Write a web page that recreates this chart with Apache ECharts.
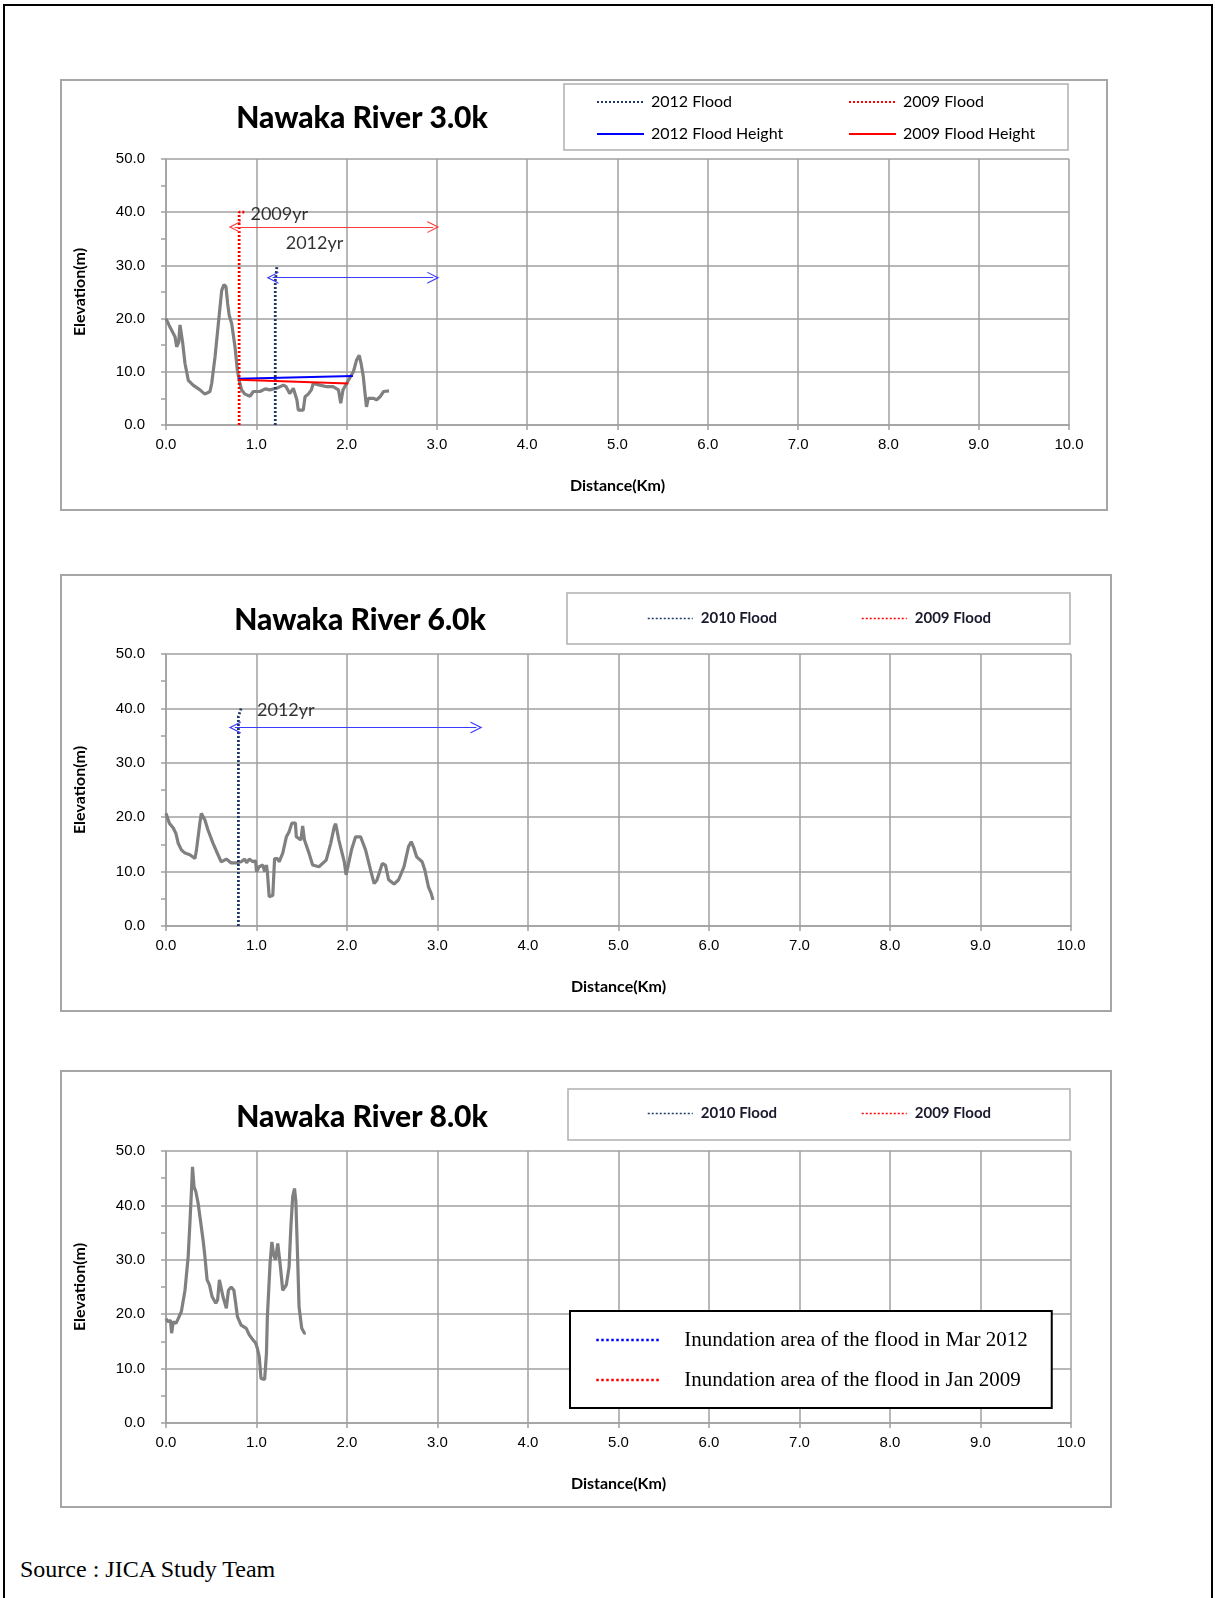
<!DOCTYPE html>
<html><head><meta charset="utf-8">
<script src="https://cdn.jsdelivr.net/npm/echarts@6/dist/echarts.min.js"></script>
<style>
body{margin:0;background:#fff;width:1215px;height:1598px;position:relative;overflow:hidden;}
#frame{position:absolute;left:3px;top:4px;width:1206px;height:1600px;border:2px solid #000;border-bottom:none;}
.panel{position:absolute;}
#source{position:absolute;left:20px;top:1556px;font-family:'Liberation Serif';font-size:24px;color:#000;}
</style></head><body>
<div id="frame"></div>
<div id="c1" class="panel" style="left:60px;top:79px;width:1048px;height:432px"></div>
<div id="c2" class="panel" style="left:60px;top:574px;width:1052px;height:438px"></div>
<div id="c3" class="panel" style="left:60px;top:1070px;width:1052px;height:438px"></div>
<div id="source">Source : JICA Study Team</div>
<script>
// ---------- data ----------
const titles = ['Nawaka River 3.0k', 'Nawaka River 6.0k', 'Nawaka River 8.0k'];
const xTicks = [0, 10, 1];   // min, max, interval (km)
const yTicks = [0, 50, 10];  // min, max, interval (m)

// ground profile, 3.0k [distance km, elevation m]
const profile30 = [[0,20.0],[0.044,18.4],[0.10,16.6],[0.118,14.7],[0.14,15.5],[0.155,18.8],[0.17,18.8],[0.185,15.4],[0.21,11.6],[0.247,8.4],[0.30,7.5],[0.376,6.6],[0.43,5.8],[0.487,6.3],[0.506,7.8],[0.543,12.8],[0.58,19.1],[0.617,25.3],[0.642,26.4],[0.664,26.0],[0.683,22.8],[0.70,20.6],[0.727,19.1],[0.764,14.7],[0.79,10.3],[0.81,8.4],[0.838,6.6],[0.875,5.8],[0.93,5.4],[0.967,6.3],[1.04,6.3],[1.10,6.8],[1.15,6.6],[1.226,6.9],[1.30,7.5],[1.33,7.2],[1.37,5.9],[1.41,6.9],[1.45,4.7],[1.465,2.8],[1.52,2.8],[1.54,5.3],[1.575,5.8],[1.61,6.6],[1.63,7.8],[1.705,7.5],[1.78,7.2],[1.85,7.2],[1.91,6.6],[1.935,4.1],[1.96,6.6],[1.98,7.2],[2.02,8.4],[2.075,10.0],[2.11,12.2],[2.14,13.1],[2.16,11.6],[2.185,9.1],[2.20,6.6],[2.22,3.4],[2.24,5.0],[2.30,5.0],[2.33,4.7],[2.37,5.3],[2.41,6.3],[2.47,6.4]];
const flood2012Line30 = [[1.21,0],[1.21,27],[1.23,30]];
const flood2009Line30 = [[0.81,0],[0.81,40],[0.87,40]];
const height2012_30 = [[0.80,8.7],[2.07,9.2]];
const height2009_30 = [[0.80,8.5],[2.02,7.8]];
const arrow2009_30 = [[0.76,37.2],[2.96,37.2]];
const arrow2012_30 = [[1.18,27.7],[2.96,27.7]];
const notes30 = [{name:'2009yr', value:[0.93,39.7]}, {name:'2012yr', value:[1.32,34.2]}];

// ground profile, 6.0k
const profile60 = [[0,20.7],[0.01,21.0],[0.037,18.9],[0.08,18.0],[0.11,17.0],[0.135,15.2],[0.17,14.0],[0.21,13.4],[0.264,13.1],[0.32,12.4],[0.337,14.0],[0.374,18.9],[0.39,20.7],[0.43,19.5],[0.465,17.6],[0.52,15.2],[0.575,13.1],[0.61,11.8],[0.667,12.3],[0.72,11.6],[0.777,11.6],[0.83,11.8],[0.87,12.3],[0.89,11.6],[0.92,12.3],[0.96,11.8],[0.99,12.0],[1.0,10.0],[1.03,10.9],[1.07,11.2],[1.09,10.0],[1.11,11.2],[1.12,10.0],[1.14,5.4],[1.18,5.6],[1.20,12.4],[1.23,12.4],[1.25,11.8],[1.29,13.4],[1.33,16.4],[1.36,17.3],[1.39,18.9],[1.43,18.9],[1.44,16.4],[1.49,15.8],[1.51,18.4],[1.53,15.8],[1.58,13.4],[1.62,11.2],[1.69,10.9],[1.77,12.1],[1.82,15.2],[1.86,18.3],[1.875,18.8],[1.91,15.8],[1.97,11.8],[1.99,9.4],[2.01,10.9],[2.05,14.0],[2.095,16.4],[2.15,16.4],[2.205,14.0],[2.26,10.3],[2.30,7.8],[2.33,8.4],[2.39,11.5],[2.425,11.2],[2.46,8.5],[2.52,7.7],[2.57,8.5],[2.63,10.9],[2.68,14.6],[2.71,15.5],[2.74,14.3],[2.77,12.7],[2.83,11.8],[2.86,10.3],[2.90,7.2],[2.93,6.0],[2.95,4.8]];
const flood2010Line60 = [[0.80,0],[0.80,38.5],[0.83,40]];
const arrow2012_60 = [[0.76,36.5],[3.43,36.5]];
const notes60 = [{name:'2012yr', value:[1.0,39.7]}];

// ground profile, 8.0k
const profile80 = [[0,19.2],[0.025,18.6],[0.05,18.9],[0.062,16.5],[0.08,18.6],[0.11,18.3],[0.135,19.2],[0.17,20.5],[0.21,24.4],[0.245,30.6],[0.264,36.7],[0.28,42.2],[0.293,47.1],[0.31,43.4],[0.33,42.5],[0.355,40.4],[0.38,37.3],[0.41,33.6],[0.43,30.6],[0.454,26.3],[0.48,25.4],[0.51,23.2],[0.55,22.0],[0.57,22.6],[0.59,26.3],[0.61,26.3],[0.63,23.2],[0.667,21.1],[0.69,24.4],[0.72,25.0],[0.75,24.4],[0.77,22.0],[0.79,19.5],[0.83,18.0],[0.887,17.4],[0.92,16.2],[0.96,15.3],[0.99,14.7],[1.01,13.7],[1.03,12.2],[1.05,8.2],[1.09,8.0],[1.11,12.8],[1.12,19.5],[1.15,29.4],[1.17,33.3],[1.19,30.9],[1.21,30.0],[1.235,33.0],[1.26,29.4],[1.29,24.4],[1.33,25.4],[1.36,28.7],[1.38,36.1],[1.40,41.6],[1.42,43.1],[1.435,40.7],[1.455,30.0],[1.47,21.4],[1.50,17.4],[1.53,16.5],[1.545,16.5]];

// ---------- styling helpers ----------
const GRID = '#a0a0a0';
const NAVY = '#1f3864';
const chev = 'path://M5,0 L10,10 L9,10 L5,2.2 L1,10 L0,10 Z';
const noSymbol = {opacity: 0};

function axes(gridTop, gridW, gridH, xGap) {
  const tickStyle = {color: GRID, width: 1.5};
  return {
    grid: {left: 106, top: gridTop, width: gridW, height: gridH},
    xAxis: {
      type: 'value', min: xTicks[0], max: xTicks[1], interval: xTicks[2],
      name: 'Distance(Km)', nameLocation: 'middle', nameGap: xGap,
      nameTextStyle: {fontFamily: 'Lato', fontWeight: 'bold', fontSize: 16, color: '#000'},
      axisLine: {show: true, lineStyle: tickStyle},
      axisTick: {show: true, length: 5, lineStyle: tickStyle},
      axisLabel: {margin: 12, formatter: v => v.toFixed(1), fontFamily: 'Liberation Sans', fontSize: 15, color: '#000'},
      splitLine: {show: true, lineStyle: tickStyle}
    },
    yAxis: {
      type: 'value', min: yTicks[0], max: yTicks[1], interval: yTicks[2],
      name: 'Elevation(m)', nameLocation: 'middle', nameGap: 78,
      nameTextStyle: {fontFamily: 'Lato', fontWeight: 'bold', fontSize: 16, color: '#000'},
      axisLine: {show: true, lineStyle: tickStyle},
      axisTick: {show: true, length: 5, lineStyle: tickStyle},
      minorTick: {show: true, splitNumber: 2, length: 5, lineStyle: tickStyle},
      axisLabel: {margin: 21, formatter: v => v.toFixed(1), fontFamily: 'Liberation Sans', fontSize: 15, color: '#000'},
      splitLine: {show: true, lineStyle: tickStyle}
    }
  };
}
function titleOpt(text, x, top) {
  return {text, left: x, top, textAlign: 'center',
    textStyle: {fontFamily: 'Lato', fontWeight: 900, fontSize: 30, color: '#000'}};
}
function profileSeries(data) {
  return {type: 'line', name: 'ground', data, symbol: 'none', silent: true,
    lineStyle: {color: '#808080', width: 3.2}, z: 3};
}
function dotted(name, data, color, width) {
  return {type: 'line', name, data, symbol: 'none', silent: true,
    itemStyle: {color}, lineStyle: {color, width: width || 2.8, type: [2, 2]}, z: 4};
}
function solid(name, data, color) {
  return {type: 'line', name, data, symbol: 'none', silent: true,
    itemStyle: {color}, lineStyle: {color, width: 2}, z: 5};
}
function arrow(pts, color) {
  return {type: 'line', data: [], symbol: 'none', silent: true,
    markLine: {silent: true, symbol: [chev, chev], symbolSize: [12, 12], precision: 3,
      label: {show: false}, emphasis: {disabled: true},
      itemStyle: {color}, lineStyle: {color, width: 1, type: 'solid'},
      data: [[{coord: pts[0]}, {coord: pts[1]}]]}};
}
function notes(data) {
  return {type: 'scatter', data, symbolSize: 1, silent: true, itemStyle: {color: 'rgba(0,0,0,0)'},
    label: {show: true, position: 'right', distance: 0, formatter: '{b}',
      fontFamily: 'Lato', fontSize: 18, color: '#000'}, z: 6};
}
function boxes(W, H, lg) {
  return [
    {type: 'rect', shape: {x: 1, y: 1, width: W - 2, height: H - 2}, style: {fill: null, stroke: '#a6a6a6', lineWidth: 2}, silent: true},
    {type: 'rect', shape: lg, style: {fill: null, stroke: '#b0b0b0', lineWidth: 1.5}, silent: true}
  ];
}
function smallLegend(name, left, top) {
  return {data: [name], left, top, itemWidth: 45, itemHeight: 12,
    lineStyle: {width: 1.5}, itemStyle: noSymbol, selectedMode: false,
    textStyle: {fontFamily: 'Lato', fontWeight: 'bold', fontSize: 15, color: '#1a1a2e', padding: [0, 0, 0, 3]}};
}

// ---------- chart 1: 3.0k ----------
const c1 = echarts.init(document.getElementById('c1'), null, {renderer: 'canvas'});
c1.setOption(Object.assign({
  animation: false,
  title: titleOpt(titles[0], 297, 19),
  graphic: boxes(1048, 432, {x: 504, y: 5, width: 504, height: 66}),
  legend: [
    {data: ['2012 Flood', '2012 Flood Height'], orient: 'vertical', left: 531, top: 9,
     itemWidth: 47, itemHeight: 14, itemGap: 14, selectedMode: false, itemStyle: noSymbol,
     lineStyle: {width: 2},
     textStyle: {fontFamily: 'Lato', fontSize: 16, lineHeight: 18, color: '#000', padding: [0, 0, 0, 2]}},
    {data: ['2009 Flood', '2009 Flood Height'], orient: 'vertical', left: 783, top: 9,
     itemWidth: 47, itemHeight: 14, itemGap: 14, selectedMode: false, itemStyle: noSymbol,
     lineStyle: {width: 2},
     textStyle: {fontFamily: 'Lato', fontSize: 16, lineHeight: 18, color: '#000', padding: [0, 0, 0, 2]}}
  ],
  series: [
    profileSeries(profile30),
    dotted('2012 Flood', flood2012Line30, NAVY),
    dotted('2009 Flood', flood2009Line30, '#ff0000'),
    solid('2012 Flood Height', height2012_30, '#0000ff'),
    solid('2009 Flood Height', height2009_30, '#ff0000'),
    arrow(arrow2009_30, '#ff3b3b'),
    arrow(arrow2012_30, '#3b3bff'),
    notes(notes30)
  ]
}, axes(80, 903, 266, 53)));

// ---------- chart 2: 6.0k ----------
const c2 = echarts.init(document.getElementById('c2'), null, {renderer: 'canvas'});
c2.setOption(Object.assign({
  animation: false,
  title: titleOpt(titles[1], 295, 26),
  graphic: boxes(1052, 438, {x: 507, y: 19, width: 503, height: 51}),
  legend: [smallLegend('2010 Flood', 582, 32), smallLegend('2009 Flood', 796, 32)],
  series: [
    profileSeries(profile60),
    dotted('2010 Flood', flood2010Line60, NAVY),
    dotted('2009 Flood', [], '#ff0000'),
    arrow(arrow2012_60, '#3b3bff'),
    notes(notes60)
  ]
}, axes(80, 905, 272, 53)));

// ---------- chart 3: 8.0k ----------
const c3 = echarts.init(document.getElementById('c3'), null, {renderer: 'canvas'});
c3.setOption(Object.assign({
  animation: false,
  title: titleOpt(titles[2], 297, 27),
  graphic: boxes(1052, 438, {x: 508, y: 19, width: 502, height: 51}),
  legend: [
    smallLegend('2010 Flood', 582, 31), smallLegend('2009 Flood', 796, 31),
    {data: ['Inundation area of the flood in Mar 2012', 'Inundation area of the flood in Jan 2009'],
     orient: 'vertical', left: 510, top: 241, backgroundColor: '#fff',
     borderColor: '#000', borderWidth: 2, padding: [18, 24, 17, 25],
     itemWidth: 65, itemHeight: 14, itemGap: 18, selectedMode: false, itemStyle: noSymbol,
     lineStyle: {width: 2.5, type: [2.5, 2.5]},
     textStyle: {fontFamily: 'Liberation Serif', fontSize: 21, lineHeight: 22, color: '#000', padding: [0, 0, 0, 18]}}
  ],
  series: [
    profileSeries(profile80),
    dotted('2010 Flood', [], NAVY),
    dotted('2009 Flood', [], '#ff0000'),
    dotted('Inundation area of the flood in Mar 2012', [], '#0000ff'),
    dotted('Inundation area of the flood in Jan 2009', [], '#ff0000')
  ]
}, axes(81, 905, 272, 53)));
</script>
</body></html>
